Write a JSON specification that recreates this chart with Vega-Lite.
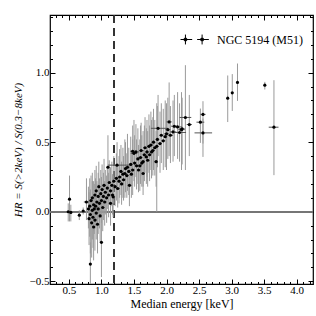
{
  "$schema": "https://vega.github.io/schema/vega-lite/v6.json",
  "width": 263,
  "height": 269,
  "autosize": {"type": "none"},
  "padding": {"left": 50, "top": 15, "right": 3, "bottom": 32},
  "background": "white",
  "config": {
    "view": {"stroke": "black", "strokeWidth": 1.2},
    "font": "Liberation Serif",
    "axis": {"labelFont": "Liberation Serif", "titleFont": "Liberation Serif", "labelColor": "black", "titleColor": "black", "tickColor": "black", "grid": false, "domain": false, "titleFontWeight": "normal"}
  },
  "data": {"values": [
    {"x":0.49,"y":0.00,"yl":-0.07,"yh":0.06,"xl":0.47,"xh":0.51},
    {"x":0.51,"y":0.09,"yl":-0.07,"yh":0.26,"xl":0.49,"xh":0.53},
    {"x":0.53,"y":-0.005,"yl":-0.07,"yh":0.05,"xl":0.51,"xh":0.55},
    {"x":0.66,"y":-0.025,"yl":-0.06,"yh":0.01,"xl":0.64,"xh":0.68},
    {"x":0.72,"y":0.005,"yl":-0.02,"yh":0.03,"xl":0.70,"xh":0.74},
    {"x":0.77,"y":0.07,"yl":-0.06,"yh":0.24,"xl":0.73,"xh":0.81},
    {"x":0.83,"y":-0.377,"yl":-0.52,"yh":-0.22,"xl":0.82,"xh":0.84},
    {"x":1.00,"y":-0.22,"yl":-0.47,"yh":-0.06,"xl":0.99,"xh":1.01},
    {"x":0.80,"y":0.02,"yl":-0.12,"yh":0.18,"xl":0.78,"xh":0.82},
    {"x":0.81,"y":-0.05,"yl":-0.24,"yh":0.14,"xl":0.79,"xh":0.83},
    {"x":0.82,"y":0.04,"yl":-0.18,"yh":0.24,"xl":0.80,"xh":0.85},
    {"x":0.83,"y":-0.02,"yl":-0.30,"yh":0.16,"xl":0.81,"xh":0.85},
    {"x":0.84,"y":0.08,"yl":-0.10,"yh":0.26,"xl":0.82,"xh":0.87},
    {"x":0.85,"y":-0.08,"yl":-0.33,"yh":0.10,"xl":0.83,"xh":0.87},
    {"x":0.86,"y":0.01,"yl":-0.20,"yh":0.22,"xl":0.84,"xh":0.88},
    {"x":0.86,"y":0.10,"yl":-0.06,"yh":0.28,"xl":0.84,"xh":0.89},
    {"x":0.87,"y":-0.04,"yl":-0.26,"yh":0.14,"xl":0.85,"xh":0.89},
    {"x":0.88,"y":0.05,"yl":-0.14,"yh":0.22,"xl":0.86,"xh":0.90},
    {"x":0.88,"y":-0.11,"yl":-0.35,"yh":0.06,"xl":0.86,"xh":0.90},
    {"x":0.89,"y":0.02,"yl":-0.16,"yh":0.20,"xl":0.87,"xh":0.92},
    {"x":0.90,"y":0.12,"yl":-0.04,"yh":0.30,"xl":0.88,"xh":0.92},
    {"x":0.90,"y":-0.06,"yl":-0.28,"yh":0.12,"xl":0.88,"xh":0.93},
    {"x":0.91,"y":0.04,"yl":-0.12,"yh":0.24,"xl":0.89,"xh":0.94},
    {"x":0.92,"y":0.15,"yl":0.00,"yh":0.33,"xl":0.90,"xh":0.94},
    {"x":0.92,"y":-0.01,"yl":-0.20,"yh":0.18,"xl":0.90,"xh":0.95},
    {"x":0.93,"y":0.07,"yl":-0.10,"yh":0.22,"xl":0.91,"xh":0.95},
    {"x":0.94,"y":-0.09,"yl":-0.30,"yh":0.08,"xl":0.92,"xh":0.96},
    {"x":0.95,"y":0.11,"yl":-0.05,"yh":0.28,"xl":0.93,"xh":0.97},
    {"x":0.95,"y":0.02,"yl":-0.16,"yh":0.20,"xl":0.93,"xh":0.98},
    {"x":0.96,"y":0.18,"yl":0.03,"yh":0.36,"xl":0.94,"xh":0.98},
    {"x":0.97,"y":0.06,"yl":-0.12,"yh":0.24,"xl":0.95,"xh":0.99},
    {"x":0.98,"y":-0.03,"yl":-0.22,"yh":0.15,"xl":0.96,"xh":1.00},
    {"x":0.99,"y":0.13,"yl":-0.03,"yh":0.30,"xl":0.97,"xh":1.01},
    {"x":1.00,"y":0.08,"yl":-0.08,"yh":0.25,"xl":0.98,"xh":1.03},
    {"x":1.01,"y":0.16,"yl":0.00,"yh":0.34,"xl":0.99,"xh":1.04},
    {"x":1.02,"y":0.03,"yl":-0.14,"yh":0.20,"xl":1.00,"xh":1.05},
    {"x":1.03,"y":0.11,"yl":-0.06,"yh":0.28,"xl":1.01,"xh":1.06},
    {"x":1.04,"y":0.19,"yl":0.04,"yh":0.38,"xl":1.02,"xh":1.07},
    {"x":1.05,"y":0.07,"yl":-0.10,"yh":0.22,"xl":1.03,"xh":1.08},
    {"x":1.06,"y":0.14,"yl":-0.02,"yh":0.30,"xl":1.04,"xh":1.09},
    {"x":1.08,"y":0.10,"yl":-0.08,"yh":0.26,"xl":1.06,"xh":1.10},
    {"x":1.09,"y":0.17,"yl":0.02,"yh":0.33,"xl":1.07,"xh":1.12},
    {"x":1.10,"y":0.32,"yl":0.10,"yh":0.55,"xl":1.08,"xh":1.12},
    {"x":1.11,"y":0.12,"yl":-0.04,"yh":0.28,"xl":1.09,"xh":1.14},
    {"x":1.12,"y":0.21,"yl":0.05,"yh":0.37,"xl":1.10,"xh":1.15},
    {"x":1.14,"y":0.06,"yl":-0.10,"yh":0.22,"xl":1.12,"xh":1.16},
    {"x":1.14,"y":0.15,"yl":0.00,"yh":0.32,"xl":1.12,"xh":1.17},
    {"x":1.16,"y":0.19,"yl":0.04,"yh":0.36,"xl":1.14,"xh":1.19},
    {"x":1.17,"y":0.12,"yl":-0.02,"yh":0.27,"xl":1.15,"xh":1.20},
    {"x":1.18,"y":0.107,"yl":-0.04,"yh":0.26,"xl":1.16,"xh":1.21},
    {"x":1.19,"y":0.22,"yl":0.06,"yh":0.40,"xl":1.17,"xh":1.22},
    {"x":1.21,"y":0.18,"yl":0.04,"yh":0.34,"xl":1.19,"xh":1.24},
    {"x":1.23,"y":0.24,"yl":0.08,"yh":0.42,"xl":1.21,"xh":1.26},
    {"x":1.24,"y":0.335,"yl":0.18,"yh":0.50,"xl":1.10,"xh":1.42},
    {"x":1.25,"y":0.167,"yl":0.03,"yh":0.32,"xl":1.23,"xh":1.28},
    {"x":1.27,"y":0.22,"yl":0.06,"yh":0.40,"xl":1.25,"xh":1.30},
    {"x":1.28,"y":0.25,"yl":0.10,"yh":0.45,"xl":1.26,"xh":1.31},
    {"x":1.30,"y":0.29,"yl":0.12,"yh":0.48,"xl":1.27,"xh":1.33},
    {"x":1.31,"y":0.20,"yl":0.05,"yh":0.36,"xl":1.29,"xh":1.34},
    {"x":1.33,"y":0.27,"yl":0.10,"yh":0.46,"xl":1.31,"xh":1.36},
    {"x":1.34,"y":0.23,"yl":0.08,"yh":0.40,"xl":1.32,"xh":1.37},
    {"x":1.36,"y":0.275,"yl":0.10,"yh":0.52,"xl":1.33,"xh":1.39},
    {"x":1.37,"y":0.31,"yl":0.14,"yh":0.50,"xl":1.35,"xh":1.40},
    {"x":1.39,"y":0.26,"yl":0.10,"yh":0.42,"xl":1.37,"xh":1.42},
    {"x":1.40,"y":0.32,"yl":0.15,"yh":0.56,"xl":1.37,"xh":1.43},
    {"x":1.42,"y":0.29,"yl":0.12,"yh":0.46,"xl":1.40,"xh":1.45},
    {"x":1.43,"y":0.19,"yl":0.04,"yh":0.35,"xl":1.41,"xh":1.46},
    {"x":1.45,"y":0.34,"yl":0.18,"yh":0.54,"xl":1.42,"xh":1.48},
    {"x":1.46,"y":0.27,"yl":0.10,"yh":0.44,"xl":1.44,"xh":1.49},
    {"x":1.48,"y":0.30,"yl":0.12,"yh":0.52,"xl":1.45,"xh":1.51},
    {"x":1.48,"y":0.435,"yl":0.25,"yh":0.62,"xl":1.44,"xh":1.52},
    {"x":1.50,"y":0.42,"yl":0.22,"yh":0.66,"xl":1.45,"xh":1.55},
    {"x":1.51,"y":0.35,"yl":0.18,"yh":0.55,"xl":1.48,"xh":1.54},
    {"x":1.53,"y":0.43,"yl":0.25,"yh":0.63,"xl":1.48,"xh":1.58},
    {"x":1.54,"y":0.33,"yl":0.16,"yh":0.52,"xl":1.51,"xh":1.57},
    {"x":1.56,"y":0.38,"yl":0.20,"yh":0.60,"xl":1.53,"xh":1.59},
    {"x":1.57,"y":0.30,"yl":0.14,"yh":0.48,"xl":1.55,"xh":1.60},
    {"x":1.59,"y":0.33,"yl":0.15,"yh":0.52,"xl":1.56,"xh":1.62},
    {"x":1.60,"y":0.39,"yl":0.20,"yh":0.62,"xl":1.57,"xh":1.63},
    {"x":1.61,"y":0.44,"yl":0.26,"yh":0.64,"xl":1.58,"xh":1.65},
    {"x":1.62,"y":0.35,"yl":0.18,"yh":0.55,"xl":1.60,"xh":1.65},
    {"x":1.64,"y":0.36,"yl":0.18,"yh":0.58,"xl":1.61,"xh":1.67},
    {"x":1.64,"y":0.275,"yl":0.12,"yh":0.44,"xl":1.62,"xh":1.67},
    {"x":1.66,"y":0.41,"yl":0.22,"yh":0.62,"xl":1.63,"xh":1.69},
    {"x":1.67,"y":0.46,"yl":0.28,"yh":0.68,"xl":1.64,"xh":1.70},
    {"x":1.69,"y":0.394,"yl":0.20,"yh":0.60,"xl":1.66,"xh":1.72},
    {"x":1.70,"y":0.43,"yl":0.25,"yh":0.66,"xl":1.67,"xh":1.73},
    {"x":1.71,"y":0.37,"yl":0.18,"yh":0.58,"xl":1.68,"xh":1.74},
    {"x":1.73,"y":0.47,"yl":0.28,"yh":0.70,"xl":1.70,"xh":1.76},
    {"x":1.74,"y":0.41,"yl":0.22,"yh":0.62,"xl":1.71,"xh":1.77},
    {"x":1.76,"y":0.48,"yl":0.30,"yh":0.72,"xl":1.73,"xh":1.79},
    {"x":1.77,"y":0.43,"yl":0.24,"yh":0.66,"xl":1.74,"xh":1.80},
    {"x":1.79,"y":0.44,"yl":0.26,"yh":0.68,"xl":1.76,"xh":1.82},
    {"x":1.80,"y":0.50,"yl":0.30,"yh":0.74,"xl":1.77,"xh":1.83},
    {"x":1.82,"y":0.46,"yl":0.26,"yh":0.66,"xl":1.79,"xh":1.85},
    {"x":1.84,"y":0.36,"yl":0.18,"yh":0.58,"xl":1.81,"xh":1.87},
    {"x":1.85,"y":0.47,"yl":0.00,"yh":0.78,"xl":1.82,"xh":1.88},
    {"x":1.86,"y":0.52,"yl":0.32,"yh":0.76,"xl":1.83,"xh":1.89},
    {"x":1.87,"y":0.60,"yl":0.40,"yh":0.84,"xl":1.76,"xh":2.02},
    {"x":1.90,"y":0.49,"yl":0.28,"yh":0.72,"xl":1.87,"xh":1.93},
    {"x":1.92,"y":0.55,"yl":0.35,"yh":0.78,"xl":1.89,"xh":1.95},
    {"x":1.95,"y":0.51,"yl":0.30,"yh":0.74,"xl":1.92,"xh":1.98},
    {"x":1.98,"y":0.54,"yl":0.32,"yh":0.80,"xl":1.95,"xh":2.01},
    {"x":2.00,"y":0.56,"yl":0.30,"yh":0.78,"xl":1.96,"xh":2.04},
    {"x":2.02,"y":0.59,"yl":0.38,"yh":0.82,"xl":1.98,"xh":2.06},
    {"x":2.04,"y":0.646,"yl":0.40,"yh":0.93,"xl":2.00,"xh":2.08},
    {"x":2.06,"y":0.55,"yl":0.35,"yh":0.76,"xl":2.02,"xh":2.10},
    {"x":2.10,"y":0.574,"yl":0.36,"yh":0.80,"xl":2.05,"xh":2.15},
    {"x":2.12,"y":0.615,"yl":0.40,"yh":0.84,"xl":2.07,"xh":2.17},
    {"x":2.17,"y":0.61,"yl":0.38,"yh":0.86,"xl":2.10,"xh":2.24},
    {"x":2.20,"y":0.57,"yl":0.36,"yh":0.78,"xl":2.12,"xh":2.30},
    {"x":2.23,"y":0.59,"yl":0.30,"yh":0.86,"xl":2.18,"xh":2.28},
    {"x":2.24,"y":0.596,"yl":0.34,"yh":0.82,"xl":2.20,"xh":2.28},
    {"x":2.29,"y":0.678,"yl":0.30,"yh":1.054,"xl":2.20,"xh":2.38},
    {"x":2.35,"y":0.627,"yl":0.40,"yh":0.84,"xl":2.31,"xh":2.39},
    {"x":2.52,"y":0.644,"yl":0.495,"yh":0.742,"xl":2.46,"xh":2.58},
    {"x":2.56,"y":0.70,"yl":0.49,"yh":0.795,"xl":2.52,"xh":2.60},
    {"x":2.56,"y":0.567,"yl":0.394,"yh":0.67,"xl":2.43,"xh":2.70},
    {"x":2.94,"y":0.817,"yl":0.645,"yh":0.98,"xl":2.93,"xh":2.95},
    {"x":3.01,"y":0.855,"yl":0.725,"yh":0.99,"xl":3.00,"xh":3.02},
    {"x":3.09,"y":0.93,"yl":0.797,"yh":1.066,"xl":3.08,"xh":3.10},
    {"x":3.51,"y":0.91,"yl":0.879,"yh":0.934,"xl":3.50,"xh":3.52},
    {"x":3.65,"y":0.608,"yl":0.263,"yh":0.946,"xl":3.57,"xh":3.72}
  ]},
  "resolve": {"axis": {"x": "independent", "y": "independent"}},
  "layer": [
    {
      "mark": {"type": "rule", "color": "#777777", "strokeWidth": 1},
      "encoding": {
        "y": {"datum": 0, "type": "quantitative", "axis": null, "scale": {"domain": [-0.52, 1.415], "nice": false, "zero": false}}
      }
    },
    {
      "mark": {"type": "rule", "color": "#333333", "strokeWidth": 1, "strokeDash": [8, 5]},
      "encoding": {
        "x": {"datum": 1.2, "type": "quantitative", "axis": null, "scale": {"domain": [0.21, 4.25], "nice": false, "zero": false}}
      }
    },
    {
      "mark": {"type": "rule", "color": "#9a9a9a", "strokeWidth": 1, "clip": true},
      "encoding": {
        "x": {"field": "x", "type": "quantitative", "scale": {"domain": [0.21, 4.25], "nice": false, "zero": false},
          "axis": {"orient": "top", "labels": false, "title": null,
            "values": [0.3,0.4,0.5,0.6,0.7,0.8,0.9,1.0,1.1,1.2,1.3,1.4,1.5,1.6,1.7,1.8,1.9,2.0,2.1,2.2,2.3,2.4,2.5,2.6,2.7,2.8,2.9,3.0,3.1,3.2,3.3,3.4,3.5,3.6,3.7,3.8,3.9,4.0,4.1,4.2],
            "tickSize": {"condition": {"test": "abs(datum.value*2-round(datum.value*2))<0.01", "value": -5}, "value": -2.5}}},
        "y": {"field": "yl", "type": "quantitative", "scale": {"domain": [-0.52, 1.415], "nice": false, "zero": false},
          "axis": {"orient": "right", "labels": false, "title": null,
            "values": [-0.5,-0.4,-0.3,-0.2,-0.1,0.0,0.1,0.2,0.3,0.4,0.5,0.6,0.7,0.8,0.9,1.0,1.1,1.2,1.3,1.4],
            "tickSize": {"condition": {"test": "abs(datum.value*2-round(datum.value*2))<0.01", "value": -5}, "value": -2.5}}},
        "y2": {"field": "yh"}
      }
    },
    {
      "mark": {"type": "rule", "color": "#555555", "strokeWidth": 1, "clip": true},
      "encoding": {
        "x": {"field": "xl", "type": "quantitative", "axis": null, "scale": {"domain": [0.21, 4.25], "nice": false, "zero": false}},
        "x2": {"field": "xh"},
        "y": {"field": "y", "type": "quantitative", "axis": null, "scale": {"domain": [-0.52, 1.415], "nice": false, "zero": false}}
      }
    },
    {
      "mark": {"type": "circle", "size": 10, "opacity": 1},
      "encoding": {
        "x": {"field": "x", "type": "quantitative", "scale": {"domain": [0.21, 4.25], "nice": false, "zero": false},
          "axis": {"orient": "bottom", "title": "Median energy [keV]", "titleFontSize": 12, "labelFontSize": 11, "labelPadding": 5, "titlePadding": 3,
            "values": [0.3,0.4,0.5,0.6,0.7,0.8,0.9,1.0,1.1,1.2,1.3,1.4,1.5,1.6,1.7,1.8,1.9,2.0,2.1,2.2,2.3,2.4,2.5,2.6,2.7,2.8,2.9,3.0,3.1,3.2,3.3,3.4,3.5,3.6,3.7,3.8,3.9,4.0,4.1,4.2],
            "labelExpr": "abs(datum.value*2-round(datum.value*2))<0.01 ? format(datum.value, '.1f') : ''",
            "tickSize": {"condition": {"test": "abs(datum.value*2-round(datum.value*2))<0.01", "value": -5}, "value": -2.5}}},
        "y": {"field": "y", "type": "quantitative", "scale": {"domain": [-0.52, 1.415], "nice": false, "zero": false},
          "axis": {"orient": "left", "title": "HR = S(>2keV) / S(0.3−8keV)", "titleFontStyle": "italic", "titleFontSize": 11, "labelFontSize": 11, "labelPadding": 6, "titlePadding": 6,
            "values": [-0.5,-0.4,-0.3,-0.2,-0.1,0.0,0.1,0.2,0.3,0.4,0.5,0.6,0.7,0.8,0.9,1.0,1.1,1.2,1.3,1.4],
            "labelExpr": "abs(datum.value*2-round(datum.value*2))<0.01 ? format(datum.value, '.1f') : ''",
            "tickSize": {"condition": {"test": "abs(datum.value*2-round(datum.value*2))<0.01", "value": -5}, "value": -2.5}}},
        "color": {"datum": "NGC 5194 (M51)", "type": "nominal", "scale": {"range": ["black"]},
          "legend": {"orient": "none", "legendX": 130, "legendY": 9, "title": null,
            "symbolType": "M-1,0H-0.22M0.11,0H0.89M-0.67,-0.33V0.33M0.44,-0.33V0.33M-0.75,-0.08h0.16v0.16h-0.16zM0.36,-0.08h0.16v0.16h-0.16z",
            "symbolSize": 900, "symbolStrokeWidth": 1, "symbolStrokeColor": "black", "symbolFillColor": "black",
            "labelFont": "Liberation Serif", "labelFontSize": 12, "labelColor": "black", "labelOffset": 6}}
      }
    }
  ]
}
